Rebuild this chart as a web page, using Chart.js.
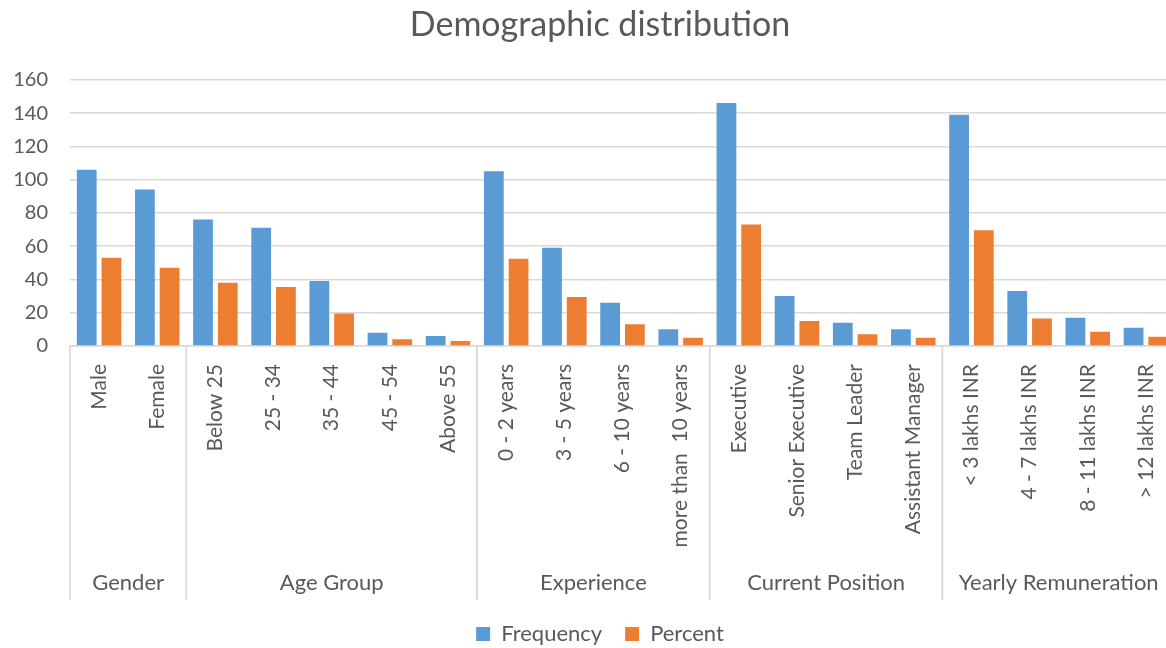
<!DOCTYPE html>
<html><head><meta charset="utf-8">
<script src="https://cdn.jsdelivr.net/npm/chart.js@4/dist/chart.umd.min.js"></script>
<style>html,body{margin:0;padding:0;overflow:hidden;background:#fff}#wrap{width:1200px;height:648px;position:relative}</style>
</head><body><div id="wrap"><canvas id="c" width="1200" height="648"></canvas></div>
<script>
const categories = ['Male','Female','Below 25','25 - 34','35 - 44','45 - 54','Above 55','0 - 2 years','3 - 5 years','6 - 10 years','more than  10 years','Executive','Senior Executive','Team Leader','Assistant Manager','< 3 lakhs INR','4 - 7 lakhs INR','8 - 11 lakhs INR','> 12 lakhs INR'];
const frequency = [106,94,76,71,39,8,6,105,59,26,10,146,30,14,10,139,33,17,11];
const percent = [53,47,38,35.5,19.5,4,3,52.5,29.5,13,5,73,15,7,5,69.5,16.5,8.5,5.5];
const groupNames = ['Gender','Age Group','Experience','Current Position','Yearly Remuneration'];
const groupSizes = [2,5,4,4,4];
const yMax = 160, yStep = 20;

const FONT = 'Lato, "Open Sans", sans-serif';
const TXT = '#595959', GRID = '#d9d9d9';
const XH = 254;

const groupPlugin = {
  id: 'groups',
  afterDraw(chart) {
    const ctx = chart.ctx, x = chart.scales.x;
    const top = chart.chartArea.bottom, bottom = top + XH;
    ctx.save();
    ctx.strokeStyle = GRID; ctx.lineWidth = 1.5;
    ctx.fillStyle = TXT; ctx.font = '22px ' + FONT;
    ctx.textAlign = 'center'; ctx.textBaseline = 'middle';
    let idx = 0;
    groupNames.forEach((name, g) => {
      const l = x.getPixelForValue(idx - 0.5);
      const r = x.getPixelForValue(idx + groupSizes[g] - 0.5);
      ctx.beginPath(); ctx.moveTo(l, top); ctx.lineTo(l, bottom); ctx.stroke();
      ctx.beginPath(); ctx.moveTo(r, top); ctx.lineTo(r, bottom); ctx.stroke();
      ctx.fillText(name, (l + r) / 2, top + 237);
      idx += groupSizes[g];
    });
    ctx.restore();
  }
};

new Chart(document.getElementById('c'), {
  type: 'bar',
  data: {
    labels: categories,
    datasets: [
      {label: 'Frequency', data: frequency, backgroundColor: '#5B9BD5', categoryPercentage: 0.85, barPercentage: 0.8, yAxisID: 'y'},
      {label: 'Percent', data: percent, backgroundColor: '#ED7D31', categoryPercentage: 0.85, barPercentage: 0.8, yAxisID: 'y'}
    ]
  },
  options: {
    responsive: false, animation: false, devicePixelRatio: 1,
    layout: {padding: {left: 0, right: 0, top: 0, bottom: -7}},
    plugins: {
      title: {display: true, text: 'Demographic distribution', color: TXT, font: {family: FONT, size: 34, weight: 'normal'}, padding: {top: 5, bottom: 34}},
      legend: {position: 'bottom', labels: {color: TXT, font: {family: FONT, size: 22}, boxWidth: 14, boxHeight: 14, padding: 23}},
      tooltip: {enabled: false}
    },
    scales: {
      x: {
        grid: {display: false},
        border: {display: true, color: GRID, width: 1.5},
        ticks: {color: TXT, font: {family: FONT, size: 21}, minRotation: 90, maxRotation: 90, autoSkip: false, padding: 10},
        afterFit(s) { s.height = XH; }
      },
      y: {
        min: 0, max: yMax,
        ticks: {stepSize: yStep, color: TXT, font: {family: FONT, size: 20}, padding: 22},
        grid: {color: GRID, lineWidth: 1.5, drawTicks: false},
        border: {display: false},
        afterFit(s) { s.width = 70; }
      },
      yRight: {
        position: 'right', min: 0, max: yMax,
        grid: {display: false, drawTicks: false},
        ticks: {display: false},
        border: {display: false},
        afterFit(s) { s.width = 25; }
      }
    }
  },
  plugins: [groupPlugin]
});
</script></body></html>
